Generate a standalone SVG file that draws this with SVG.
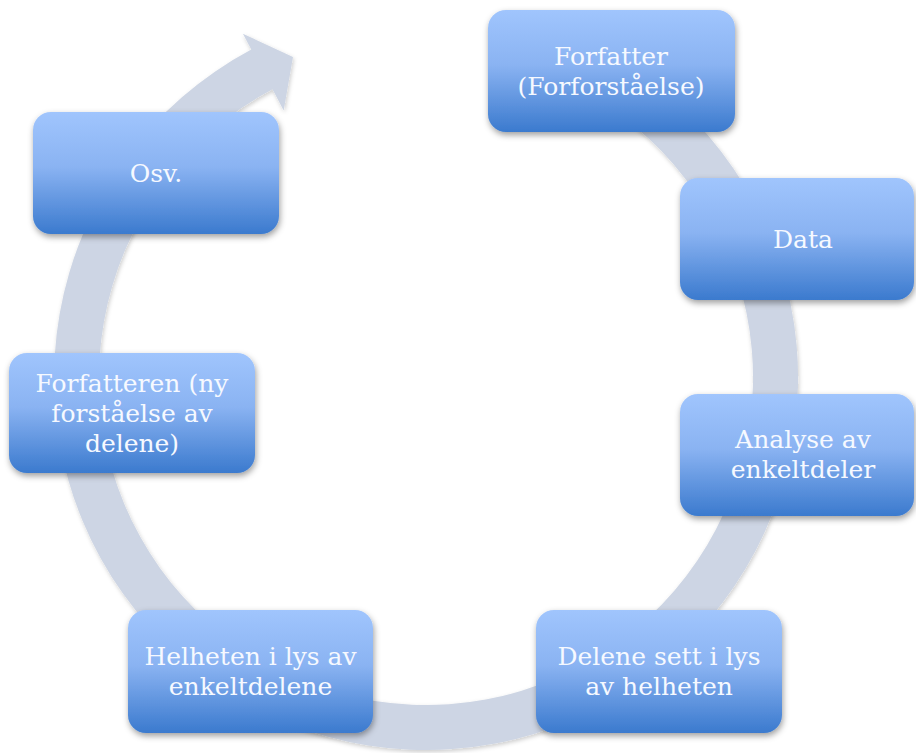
<svg xmlns="http://www.w3.org/2000/svg" width="916" height="753" viewBox="0 0 916 753">
  <defs>
    <linearGradient id="boxGrad" x1="0" y1="0" x2="0" y2="1">
      <stop offset="0" stop-color="#a0c5fd"/>
      <stop offset="0.45" stop-color="#8ab3f2"/>
      <stop offset="1" stop-color="#3b7ace"/>
    </linearGradient>
    <filter id="boxShadow" x="-10%" y="-10%" width="125%" height="130%">
      <feDropShadow dx="1" dy="3" stdDeviation="3" flood-color="#000" flood-opacity="0.38"/>
    </filter>
    <filter id="arrowShadow" x="-10%" y="-10%" width="120%" height="120%">
      <feDropShadow dx="1" dy="2" stdDeviation="2" flood-color="#000" flood-opacity="0.2"/>
    </filter>
  </defs>
  <style>
    .box { fill: url(#boxGrad); filter: url(#boxShadow); }
    .label { font-family: "DejaVu Serif", "Liberation Serif", serif; font-size: 25px; fill: #f6f9ff; text-anchor: middle; }
    .cycle { fill: #cdd5e4; filter: url(#arrowShadow); }
  </style>
  <rect width="916" height="753" fill="#ffffff"/>
  <g id="connectors">
    <path class="cycle" d="M 553.2 28.4 A 372 372 0 1 1 251.3 49.6 L 242.9 33.7 L 293 57 L 283.7 110.5 L 272.5 89.3 A 327 327 0 1 0 537.8 70.7 Z"/>
  </g>
  <g id="node-forfatter">
    <rect class="box" x="488" y="10" width="247" height="122" rx="18"/>
    <text class="label" x="611" y="65">Forfatter</text>
    <text class="label" x="611" y="95">(Forforståelse)</text>
  </g>
  <g id="node-data">
    <rect class="box" x="680" y="178" width="234" height="122" rx="18"/>
    <text class="label" x="803" y="248">Data</text>
  </g>
  <g id="node-analyse">
    <rect class="box" x="680" y="394" width="234" height="122" rx="18"/>
    <text class="label" x="803" y="448">Analyse av</text>
    <text class="label" x="803" y="478">enkeltdeler</text>
  </g>
  <g id="node-delene">
    <rect class="box" x="536" y="610" width="246" height="123" rx="18"/>
    <text class="label" x="659" y="665">Delene sett i lys</text>
    <text class="label" x="659" y="695">av helheten</text>
  </g>
  <g id="node-helheten">
    <rect class="box" x="128" y="610" width="245" height="123" rx="18"/>
    <text class="label" x="250.5" y="665">Helheten i lys av</text>
    <text class="label" x="250.5" y="695">enkeltdelene</text>
  </g>
  <g id="node-forfatteren">
    <rect class="box" x="9" y="353" width="246" height="120" rx="18"/>
    <text class="label" x="132" y="392">Forfatteren (ny</text>
    <text class="label" x="132" y="422">forståelse av</text>
    <text class="label" x="132" y="452">delene)</text>
  </g>
  <g id="node-osv">
    <rect class="box" x="33" y="112" width="246" height="122" rx="18"/>
    <text class="label" x="156" y="182">Osv.</text>
  </g>
</svg>
